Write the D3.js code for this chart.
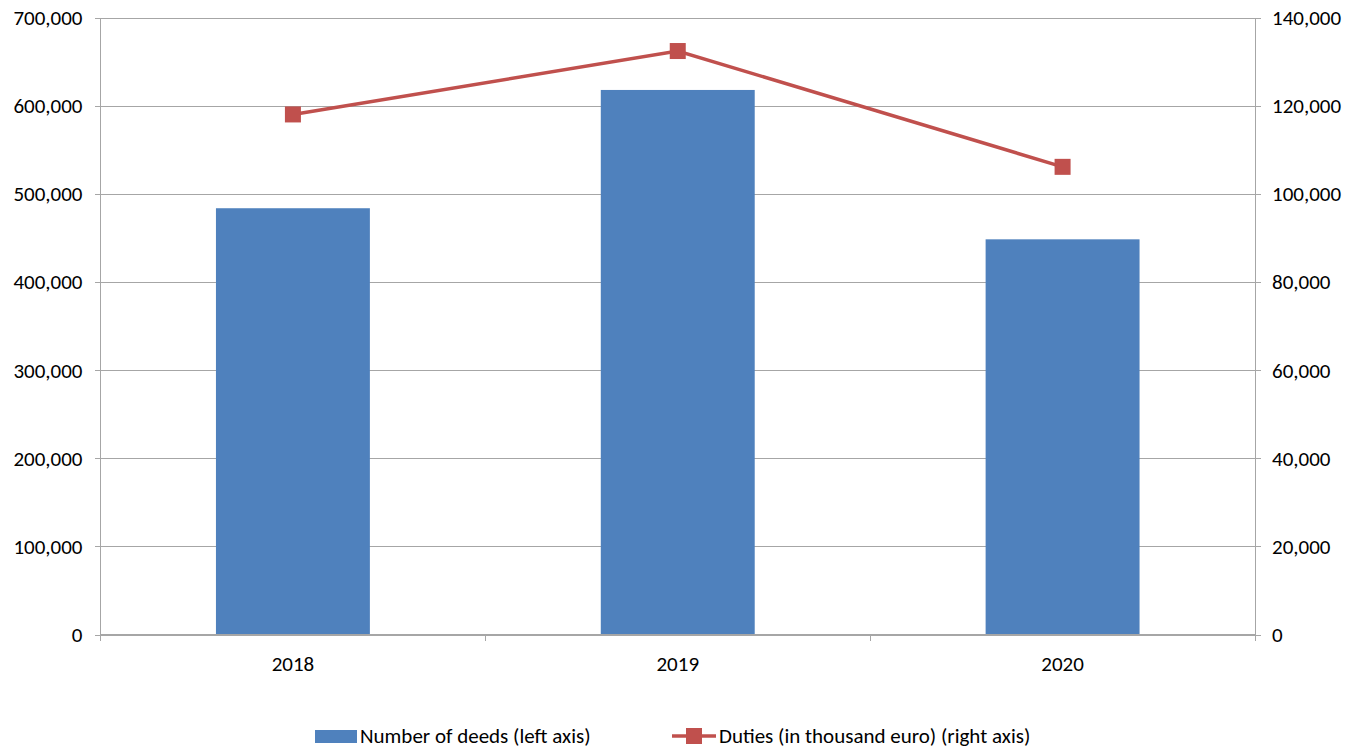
<!DOCTYPE html>
<html>
<head>
<meta charset="utf-8">
<script src="https://cdn.jsdelivr.net/npm/d3@7"></script>
<style>
body { margin: 0; background: #fff; }
svg text { font-family: Carlito, Lato, "Liberation Sans", sans-serif; fill: #000; }
</style>
</head>
<body>
<script>
var width = 1364;
var height = 751;
var margin = {top: 18, right: 109, bottom: 116.5, left: 100.5};
var w = width - margin.left - margin.right;
var h = height - margin.top - margin.bottom;

// data
var years = ["2018", "2019", "2020"];
var deeds = [484000, 618300, 448700];
var duties = [118100, 132500, 106200];
var leftTicks = [0, 100000, 200000, 300000, 400000, 500000, 600000, 700000];
var rightTicks = [0, 20000, 40000, 60000, 80000, 100000, 120000, 140000];
var seriesNames = ["Number of deeds (left axis)", "Duties (in thousand euro) (right axis)"];

var barCol = "#4F81BD";
var lineCol = "#C0504D";
var gridCol = "#A6A6A6";
var fs = "21px";

var svg = d3.select("body").append("svg")
	.attr("width", width)
	.attr("height", height);

var chart = svg.append("g")
	.attr("transform", "translate(" + margin.left + "," + margin.top + ")");

var x = d3.scaleBand()
	.domain(years)
	.range([0, w])
	.paddingInner(0.6)
	.paddingOuter(0.3);

var y = d3.scaleLinear()
	.domain([0, 700000])
	.range([h, 0]);

var y2 = d3.scaleLinear()
	.domain([0, 140000])
	.range([h, 0]);

var fmt = d3.format(",");

// gridlines
chart.selectAll("line.grid")
	.data(leftTicks)
	.enter().append("line")
	.attr("class", "grid")
	.attr("x1", 0)
	.attr("x2", w)
	.attr("y1", function(d) { return Math.round(y(d)) + 0.5; })
	.attr("y2", function(d) { return Math.round(y(d)) + 0.5; })
	.style("stroke", gridCol)
	.style("stroke-width", 1);

// bars
chart.selectAll("rect.bar")
	.data(deeds)
	.enter().append("rect")
	.attr("class", "bar")
	.attr("x", function(d, i) { return x(years[i]); })
	.attr("y", function(d) { return y(d); })
	.attr("width", x.bandwidth())
	.attr("height", function(d) { return h - y(d); })
	.style("fill", barCol);

// axes
var yAxis = d3.axisLeft(y).tickValues(leftTicks).tickFormat(fmt).tickSize(6).tickPadding(12);
var y2Axis = d3.axisRight(y2).tickValues(rightTicks).tickFormat(fmt).tickSize(6).tickPadding(11);

var gl = chart.append("g").attr("class", "axis").call(yAxis);
var gr = chart.append("g").attr("class", "axis")
	.attr("transform", "translate(" + w + ",0)")
	.call(y2Axis);

// category axis with boundary ticks
var xb = d3.scaleLinear().domain([0, years.length]).range([0, w]);
var gb = chart.append("g").attr("class", "axis")
	.attr("transform", "translate(0," + h + ")");
gb.append("line").attr("x1", 0).attr("x2", w).attr("y1", 0).attr("y2", 0);
gb.selectAll("line.tk")
	.data(d3.range(years.length + 1))
	.enter().append("line")
	.attr("class", "tk")
	.attr("x1", function(d) { return xb(d); })
	.attr("x2", function(d) { return xb(d); })
	.attr("y1", 0).attr("y2", 6);
gb.selectAll("text")
	.data(years)
	.enter().append("text")
	.attr("x", function(d) { return x(d) + x.bandwidth() / 2; })
	.attr("y", 36)
	.style("text-anchor", "middle")
	.style("font-size", fs)
	.text(function(d) { return d; });

svg.selectAll(".axis path.domain").remove();
svg.selectAll(".axis line").style("stroke", gridCol).style("stroke-width", 1).attr("shape-rendering", "crispEdges");
gl.append("line").attr("x1", 0).attr("x2", 0).attr("y1", 0).attr("y2", h + 6)
	.style("stroke", gridCol).attr("shape-rendering", "crispEdges");
gr.append("line").attr("x1", 0).attr("x2", 0).attr("y1", 0).attr("y2", h + 6)
	.style("stroke", gridCol).attr("shape-rendering", "crispEdges");
svg.selectAll(".axis .tick text").style("font-size", fs).style("fill", "#000");

// duties line
var line = d3.line()
	.x(function(d, i) { return x(years[i]) + x.bandwidth() / 2; })
	.y(function(d) { return y2(d); });

chart.append("path")
	.datum(duties)
	.attr("d", line)
	.style("fill", "none")
	.style("stroke", lineCol)
	.style("stroke-width", 3.5);

chart.selectAll("rect.mark")
	.data(duties)
	.enter().append("rect")
	.attr("class", "mark")
	.attr("x", function(d, i) { return x(years[i]) + x.bandwidth() / 2 - 8; })
	.attr("y", function(d) { return y2(d) - 8; })
	.attr("width", 16)
	.attr("height", 16)
	.style("fill", lineCol);

// legend
var legend = svg.append("g").attr("transform", "translate(0,736)");
legend.append("rect")
	.attr("x", 315).attr("y", -6).attr("width", 42).attr("height", 13)
	.style("fill", barCol);
legend.append("text")
	.attr("x", 360).attr("y", 7)
	.style("font-size", fs)
	.text(seriesNames[0]);
legend.append("line")
	.attr("x1", 672).attr("x2", 716).attr("y1", 0).attr("y2", 0)
	.style("stroke", lineCol).style("stroke-width", 3.5);
legend.append("rect")
	.attr("x", 686).attr("y", -8).attr("width", 16).attr("height", 16)
	.style("fill", lineCol);
legend.append("text")
	.attr("x", 719).attr("y", 7)
	.style("font-size", fs)
	.text(seriesNames[1]);
</script>
</body>
</html>
